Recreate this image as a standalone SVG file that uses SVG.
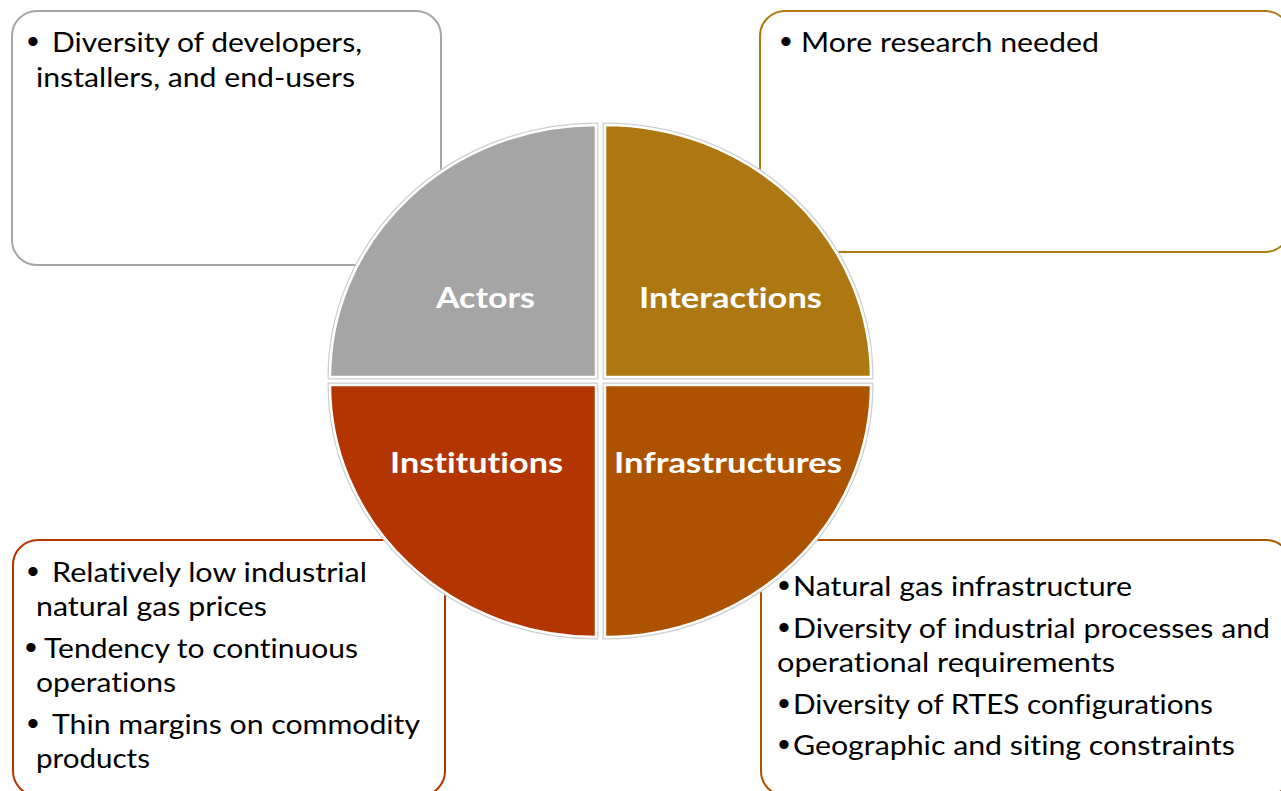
<svg xmlns="http://www.w3.org/2000/svg" width="1281" height="791" viewBox="0 0 1281 791">
  <style>
    .box { fill: #ffffff; stroke-width: 2; }
    .txt { font-family: Lato, "Liberation Sans", sans-serif; font-size: 27px; fill: #000000; font-variant-ligatures: none; }
    .bul { font-family: "Liberation Sans", sans-serif; font-size: 34px; fill: #000000; }
    .lbl { font-family: Lato, "Liberation Sans", sans-serif; font-size: 28px; font-weight: bold; fill: #ffffff; text-anchor: middle; font-variant-ligatures: none; }
    .halo { fill: none; stroke: #cfcfcf; stroke-width: 5; }
    .seg { stroke: #ffffff; stroke-width: 2.5; }
  </style>
  <rect width="1281" height="791" fill="#ffffff"/>

  <!-- Description boxes (behind the circle) -->
  <g id="box-actors">
    <rect class="box" x="12" y="11" width="429" height="254" rx="25" stroke="#a6a6a6"/>
    <text class="bul" x="27" y="53">•</text>
    <text class="txt" x="52" y="52" textLength="310" lengthAdjust="spacingAndGlyphs">Diversity of developers,</text>
    <text class="txt" x="36" y="87" textLength="319" lengthAdjust="spacingAndGlyphs">installers, and end-users</text>
  </g>

  <g id="box-interactions">
    <rect class="box" x="760" y="11" width="530" height="241" rx="25" stroke="#ae7a12"/>
    <text class="bul" x="780" y="53">•</text>
    <text class="txt" x="801" y="52" textLength="298" lengthAdjust="spacingAndGlyphs">More research needed</text>
  </g>

  <g id="box-institutions">
    <rect class="box" x="13" y="540" width="432" height="256" rx="25" stroke="#b33500"/>
    <text class="bul" x="27" y="583">•</text>
    <text class="txt" x="52" y="582" textLength="315" lengthAdjust="spacingAndGlyphs">Relatively low industrial</text>
    <text class="txt" x="36" y="616" textLength="231" lengthAdjust="spacingAndGlyphs">natural gas prices</text>
    <text class="bul" x="25" y="659">•</text>
    <text class="txt" x="44" y="658" textLength="314" lengthAdjust="spacingAndGlyphs">Tendency to continuous</text>
    <text class="txt" x="36" y="692" textLength="140" lengthAdjust="spacingAndGlyphs">operations</text>
    <text class="bul" x="27" y="735">•</text>
    <text class="txt" x="52" y="734" textLength="368" lengthAdjust="spacingAndGlyphs">Thin margins on commodity</text>
    <text class="txt" x="36" y="768" textLength="114" lengthAdjust="spacingAndGlyphs">products</text>
  </g>

  <g id="box-infrastructures">
    <rect class="box" x="761" y="540" width="530" height="256" rx="25" stroke="#ad5300"/>
    <text class="bul" x="778" y="597">•</text>
    <text class="txt" x="793" y="596" textLength="339" lengthAdjust="spacingAndGlyphs">Natural gas infrastructure</text>
    <text class="bul" x="778" y="639">•</text>
    <text class="txt" x="793" y="638" textLength="477" lengthAdjust="spacingAndGlyphs">Diversity of industrial processes and</text>
    <text class="txt" x="777" y="672" textLength="338" lengthAdjust="spacingAndGlyphs">operational requirements</text>
    <text class="bul" x="778" y="715">•</text>
    <text class="txt" x="793" y="714" textLength="420" lengthAdjust="spacingAndGlyphs">Diversity of RTES configurations</text>
    <text class="bul" x="778" y="756">•</text>
    <text class="txt" x="793" y="755" textLength="442" lengthAdjust="spacingAndGlyphs">Geographic and siting constraints</text>
  </g>

  <!-- Central circle split into four quarters -->
  <g id="quarter-actors">
    <path class="halo" d="M596,377 L330,377 A266,252 0 0 1 596,125 Z"/>
    <path class="seg" fill="#a5a5a5" d="M596,377 L330,377 A266,252 0 0 1 596,125 Z"/>
    <text class="lbl" x="485.5" y="308" textLength="99" lengthAdjust="spacingAndGlyphs">Actors</text>
  </g>

  <g id="quarter-interactions">
    <path class="halo" d="M605,377 L605,125 A266,252 0 0 1 871,377 Z"/>
    <path class="seg" fill="#ad7811" d="M605,377 L605,125 A266,252 0 0 1 871,377 Z"/>
    <text class="lbl" x="730.5" y="308" textLength="183" lengthAdjust="spacingAndGlyphs">Interactions</text>
  </g>

  <g id="quarter-institutions">
    <path class="halo" d="M596,385 L596,637 A266,252 0 0 1 330,385 Z"/>
    <path class="seg" fill="#b33500" d="M596,385 L596,637 A266,252 0 0 1 330,385 Z"/>
    <text class="lbl" x="476.5" y="473" textLength="173" lengthAdjust="spacingAndGlyphs">Institutions</text>
  </g>

  <g id="quarter-infrastructures">
    <path class="halo" d="M605,385 L871,385 A266,252 0 0 1 605,637 Z"/>
    <path class="seg" fill="#ad5300" d="M605,385 L871,385 A266,252 0 0 1 605,637 Z"/>
    <text class="lbl" x="728" y="473" textLength="228" lengthAdjust="spacingAndGlyphs">Infrastructures</text>
  </g>

  <!-- No connectors in this figure -->
  <g id="connectors"/>
</svg>
